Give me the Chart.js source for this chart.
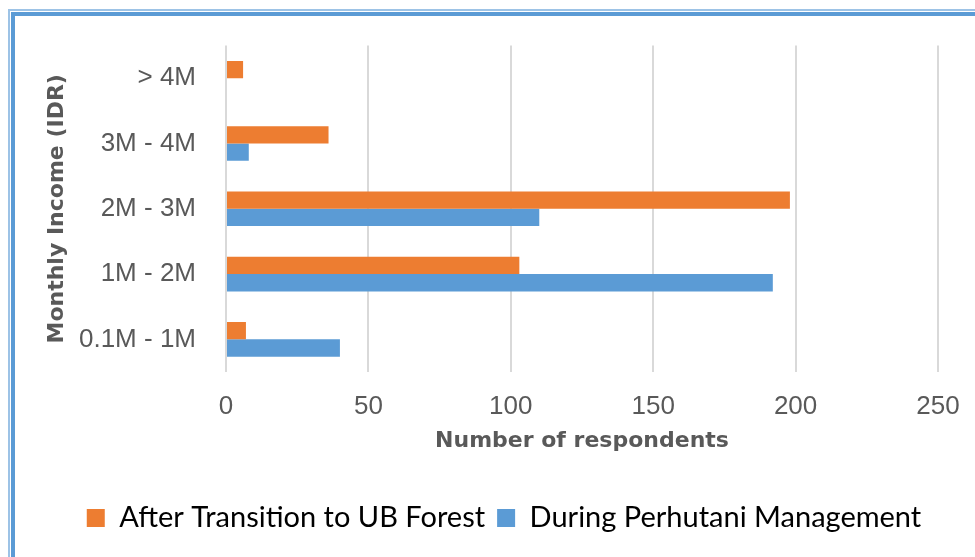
<!DOCTYPE html>
<html>
<head>
<meta charset="utf-8">
<script src="https://cdn.jsdelivr.net/npm/chart.js@4"></script>
<style>
	html, body { margin: 0; padding: 0; background: #fff; overflow: hidden; }
	#wrap { position: relative; width: 975px; height: 557px; }
	.frame-outer { position: absolute; left: 8px; top: 9px; right: -20px; bottom: -20px;
		border-left: 2px solid #9dc3e6; border-top: 2px solid #9dc3e6; pointer-events: none; }
	.frame-inner { position: absolute; left: 11px; top: 12px; right: -20px; bottom: -20px;
		border-left: 4px solid #5b9bd5; border-top: 4px solid #5b9bd5; pointer-events: none; }
</style>
</head>
<body>
<div id="wrap">
	<canvas id="bar-chart" width="975" height="557"></canvas>
	<div class="frame-outer"></div>
	<div class="frame-inner"></div>
</div>
<script>
const incomeLabels = ["> 4M", "3M - 4M", "2M - 3M", "1M - 2M", "0.1M - 1M"];
const afterTransition = [6, 36, 198, 103, 7];
const duringPerhutani = [0, 8, 110, 192, 40];
const xTicks = [0, 50, 100, 150, 200, 250];

const barData = {
	labels: incomeLabels,
	datasets: [
		{
			label: "After Transition to UB Forest",
			backgroundColor: "#ED7D31",
			data: afterTransition
		},
		{
			label: "During Perhutani Management",
			backgroundColor: "#5B9BD5",
			data: duringPerhutani
		}
	]
};

const tickFont = { family: "'Liberation Sans', Arial, sans-serif", size: 26 };
const titleFont = { family: "'DejaVu Sans', sans-serif", size: 22, weight: "bold" };

const barOptions = {
	indexAxis: "y",
	responsive: false,
	animation: false,
	layout: {
		padding: { top: 42, right: 37, bottom: 14.5, left: 70 }
	},
	datasets: {
		bar: {
			barPercentage: 1,
			categoryPercentage: 0.53
		}
	},
	scales: {
		x: {
			min: 0,
			max: 250,
			afterBuildTicks: (scale) => {
				scale.ticks = xTicks.map((v) => ({ value: v }));
			},
			afterFit: (scale) => {
				scale.height = 119.5;
				// let the layout padding decide the right edge, not the last tick label
				scale.paddingLeft = 0;
				scale.paddingRight = 0;
			},
			grid: {
				color: "#d9d9d9",
				lineWidth: 2,
				drawTicks: false
			},
			border: { display: false },
			ticks: {
				color: "#595959",
				font: tickFont,
				padding: 19
			},
			title: {
				display: true,
				text: "Number of respondents",
				color: "#595959",
				font: titleFont,
				padding: { top: 0, bottom: 37.3 }
			}
		},
		y: {
			afterFit: (scale) => {
				scale.width = 156;
			},
			grid: {
				display: false,
				drawTicks: false
			},
			border: { display: false },
			ticks: {
				color: "#595959",
				font: tickFont,
				padding: 30
			},
			title: {
				display: true,
				text: "Monthly Income (IDR)",
				color: "#595959",
				font: titleFont,
				padding: { top: -26, bottom: 0 }
			}
		}
	},
	plugins: {
		legend: {
			position: "bottom",
			labels: {
				boxWidth: 18,
				boxHeight: 18,
				padding: 12,
				color: "#000",
				font: { family: "Lato, 'Open Sans', sans-serif", size: 29 }
			}
		},
		tooltip: { enabled: false }
	}
};

const barContext = document.getElementById("bar-chart").getContext("2d");
const barChart = new Chart(barContext, {
	type: "bar",
	data: barData,
	options: barOptions
});
</script>
</body>
</html>
